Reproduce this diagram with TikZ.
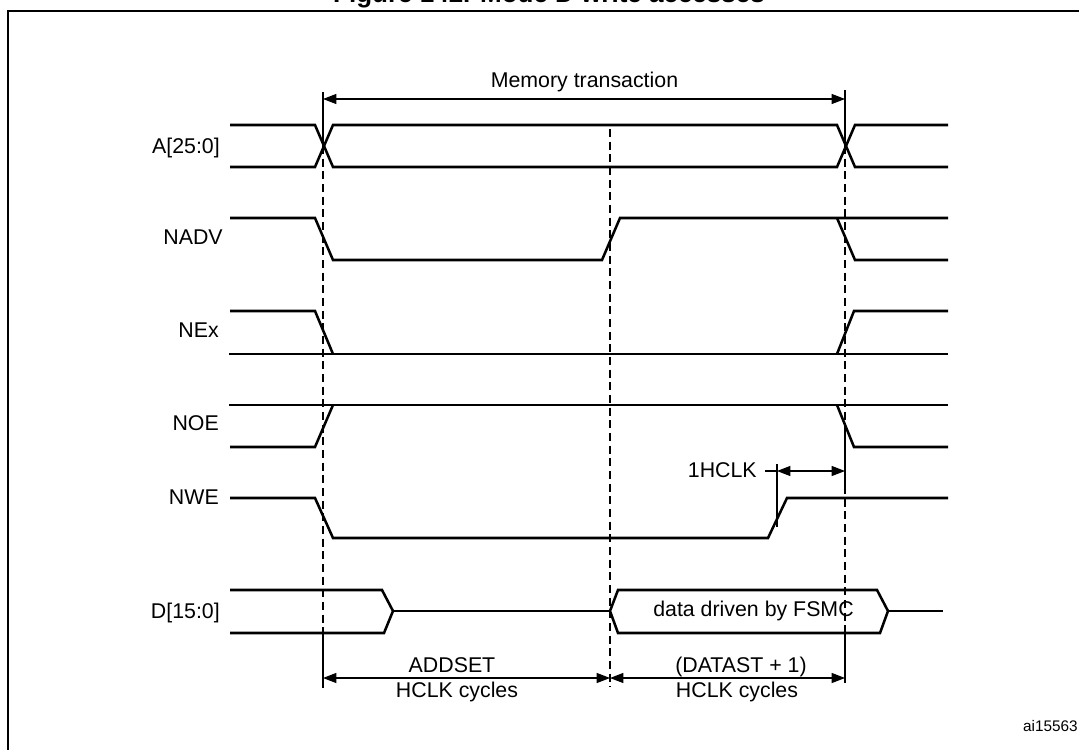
\documentclass[tikz,border=0pt]{standalone}
\usepackage{fontspec}
\setmainfont{Liberation Sans}
\usetikzlibrary{arrows.meta}
\begin{document}
\begin{tikzpicture}[x=0.75pt,y=-0.75pt,
  sig/.style={line width=1.9pt, line join=miter},
  guide/.style={line width=1.2pt, dash pattern=on 6pt off 3.5pt},
  solidguide/.style={line width=0.8pt},
  dim/.style={line width=0.8pt},
  dimarr/.style={dim, {Triangle[length=10pt,width=7.5pt]}-{Triangle[length=10pt,width=7.5pt]}},
  lbl/.style={font=\fontsize{16}{19}\selectfont, inner sep=0pt, anchor=base},
  siglbl/.style={lbl, anchor=base east}]
\useasboundingbox (0,0) rectangle (1079,750);
% frame and clipped title
\draw[line width=1.8pt] (8,800) -- (8,11) -- (1120,11);
\node[lbl, font=\bfseries\fontsize{19.5}{23}\selectfont] (title) at (549,2) {Figure 142. Mode D write accesses};

% signal labels
\node[siglbl] (lA)    at (220,153.6) {A[25:0]};
\node[siglbl] (lNADV) at (223,244.5) {NADV};
\node[siglbl] (lNEx)  at (219,337) {NEx};
\node[siglbl] (lNOE)  at (219,430) {NOE};
\node[siglbl] (lNWE)  at (219,504) {NWE};
\node[siglbl] (lD)    at (220,618.5) {D[15:0]};

% A[25:0]
\draw[sig] (230,125) -- (315,125) -- (333,167) -- (837,167) -- (855,125) -- (948,125);
\draw[sig] (230,167) -- (315,167) -- (333,125) -- (837,125) -- (855,167) -- (948,167);
% NADV
\draw[sig] (230,218) -- (315,218) -- (333,260) -- (602,260) -- (620,218) -- (948,218);
\draw[sig] (837,218) -- (855,260) -- (948,260);
% NEx
\draw[sig] (230,311) -- (315,311) -- (333,354);
\draw[sig] (229,354) -- (948,354);
\draw[sig] (837,354) -- (854,311) -- (948,311);
% NOE
\draw[sig] (229,405) -- (948,405);
\draw[sig] (230,447) -- (315,447) -- (333,405);
\draw[sig] (837,405) -- (854,447) -- (948,447);
% NWE
\draw[sig] (230,498) -- (315,498) -- (333,538) -- (768,538) -- (787,498) -- (948,498);
% D[15:0]
\draw[sig] (230,590) -- (382,590) -- (393,611) -- (384,633) -- (230,633);
\draw[sig] (393,611) -- (610,611);
\draw[sig] (610,611) -- (618,590) -- (877,590) -- (888,611) -- (880,633) -- (618,633) -- cycle;
\draw[sig] (888,611) -- (943,611);
\node[lbl] (data) at (753.5,616) {data driven by FSMC};

% guide lines
\coordinate (g1top) at (323,92);
\coordinate (g1a) at (323,146);
\coordinate (g1b) at (323,633);
\coordinate (g1bot) at (323,688);
\draw[solidguide] (g1top) -- (g1a);
\draw[guide] (g1a) -- (g1b);
\draw[solidguide] (g1b) -- (g1bot);

\coordinate (g2top) at (610,129);
\coordinate (g2bot) at (610,687);
\draw[guide] (g2top) -- (g2bot);

\coordinate (g3top) at (845,90);
\coordinate (g3a) at (845,146);
\coordinate (g3b) at (845,428);
\coordinate (g3c) at (845,486);
\coordinate (g3d) at (845,633);
\coordinate (g3bot) at (845,683);
\draw[solidguide] (g3top) -- (g3a);
\draw[guide] (g3a) -- (g3b);
\draw[solidguide] (g3b) -- (g3c);
\draw[guide] (g3c) -- (g3d);
\draw[solidguide] (g3d) -- (g3bot);

% memory transaction
\coordinate (mtL) at (323,99);
\coordinate (mtR) at (845,99);
\draw[dimarr] (mtL) -- (mtR);
\node[lbl] (mt) at (584.5,87) {Memory transaction};

% 1HCLK
\coordinate (hv1) at (777,464);
\coordinate (hv2) at (777,527);
\draw[dim] (hv1) -- (hv2);
\coordinate (hL) at (777,471);
\coordinate (hR) at (845,471);
\draw[dimarr] (hL) -- (hR);
\node[lbl, anchor=base east] (hclk) at (757,477) {1HCLK};
\draw[dim] (765,471) -- (hL);

% bottom dimensions
\coordinate (bL) at (323,678);
\coordinate (bM) at (610,678);
\coordinate (bR) at (845,678);
\draw[dimarr] (bL) -- (bM);
\draw[dimarr] (bM) -- (bR);
\node[lbl] (addset) at (452,672) {ADDSET};
\node[lbl] (hc1) at (457,697) {HCLK cycles};
\node[lbl] (datast) at (741,672) {(DATAST + 1)};
\node[lbl] (hc2) at (737,697) {HCLK cycles};

\node[lbl, anchor=base east, font=\fontsize{11.5}{14}\selectfont] (id) at (1078,731) {ai15563};
\end{tikzpicture}
\end{document}
